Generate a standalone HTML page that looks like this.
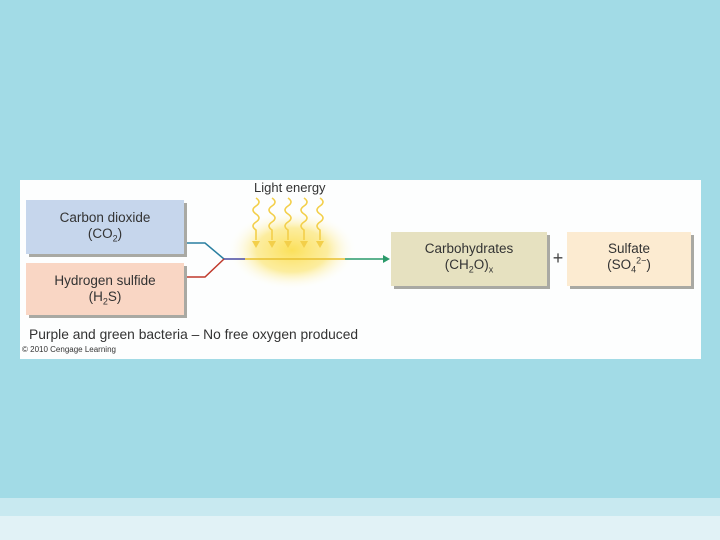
<!DOCTYPE html>
<html><head><style>
body{margin:0;width:720px;height:540px;background:#a2dbe6;position:relative;overflow:hidden;font-family:"Liberation Sans",sans-serif;}
.panel{position:absolute;left:20px;top:180px;width:681px;height:179px;background:#fdfefe;}
.box{position:absolute;text-align:center;font-size:13.5px;color:#333;line-height:16px;box-shadow:3px 3px 0 #a9a9a3;}
sub,sup{font-size:9px;line-height:0;}
</style></head><body>
<div style="position:absolute;left:0;top:498px;width:720px;height:18px;background:#c8e9f0"></div>
<div style="position:absolute;left:0;top:516px;width:720px;height:24px;background:#e1f2f6"></div>
<div class="panel"></div>
<svg style="position:absolute;left:0;top:0" width="720" height="540">
<defs><radialGradient id="g" cx="50%" cy="50%" r="50%">
<stop offset="0" stop-color="#fbe05a"/><stop offset="0.55" stop-color="#fcea8e" stop-opacity="0.85"/><stop offset="1" stop-color="#fff" stop-opacity="0"/></radialGradient></defs>
<ellipse cx="292" cy="250" rx="65" ry="40" fill="url(#g)"/>
<g stroke="#f3cf4a" stroke-width="1.6" fill="none">
<path d="M256 198 q6 4 0 8 q-6 4 0 8 q6 4 0 8 q-6 4 0 8 v10"/>
<path d="M272 198 q6 4 0 8 q-6 4 0 8 q6 4 0 8 q-6 4 0 8 v10"/>
<path d="M288 198 q6 4 0 8 q-6 4 0 8 q6 4 0 8 q-6 4 0 8 v10"/>
<path d="M304 198 q6 4 0 8 q-6 4 0 8 q6 4 0 8 q-6 4 0 8 v10"/>
<path d="M320 198 q6 4 0 8 q-6 4 0 8 q6 4 0 8 q-6 4 0 8 v10"/>
</g>
<g fill="#f3cf4a"><path d="M252 241 h8 l-4 7z"/><path d="M268 241 h8 l-4 7z"/><path d="M284 241 h8 l-4 7z"/><path d="M300 241 h8 l-4 7z"/><path d="M316 241 h8 l-4 7z"/></g>
<polyline points="186,243 205,243 224,259" stroke="#2a7fa0" stroke-width="1.5" fill="none"/>
<polyline points="186,277 205,277 224,259" stroke="#c0392b" stroke-width="1.5" fill="none"/>
<line x1="224" y1="259" x2="245" y2="259" stroke="#4a4aa0" stroke-width="1.5"/>
<line x1="245" y1="259" x2="345" y2="259" stroke="#e8c030" stroke-width="1.5"/>
<line x1="345" y1="259" x2="384" y2="259" stroke="#2a9a6a" stroke-width="1.5"/>
<path d="M383 255 l7 4 l-7 4z" fill="#2a9a6a"/>
<text x="558" y="264" font-size="18" fill="#444" text-anchor="middle" font-family="Liberation Sans">+</text>
</svg>
<div style="position:absolute;left:254px;top:180px;font-size:13px;color:#333">Light energy</div>
<div class="box" style="left:26px;top:200px;width:158px;height:54px;background:#c6d6ec;"><div style="padding-top:10px">Carbon dioxide<br>(CO<sub>2</sub>)</div></div>
<div class="box" style="left:26px;top:263px;width:158px;height:52px;background:#f9d6c4;"><div style="padding-top:10px">Hydrogen sulfide<br>(H<sub>2</sub>S)</div></div>
<div class="box" style="left:391px;top:232px;width:156px;height:54px;background:#e6e1c0;"><div style="padding-top:9px">Carbohydrates<br>(CH<sub>2</sub>O)<sub>x</sub></div></div>
<div class="box" style="left:567px;top:232px;width:124px;height:54px;background:#fcebd1;"><div style="padding-top:9px">Sulfate<br>(SO<sub>4</sub><sup>2−</sup>)</div></div>
<div style="position:absolute;left:29px;top:327px;font-size:13.8px;color:#333">Purple and green bacteria – No free oxygen produced</div>
<div style="position:absolute;left:22px;top:345px;font-size:8px;color:#333">© 2010 Cengage Learning</div>
</body></html>
